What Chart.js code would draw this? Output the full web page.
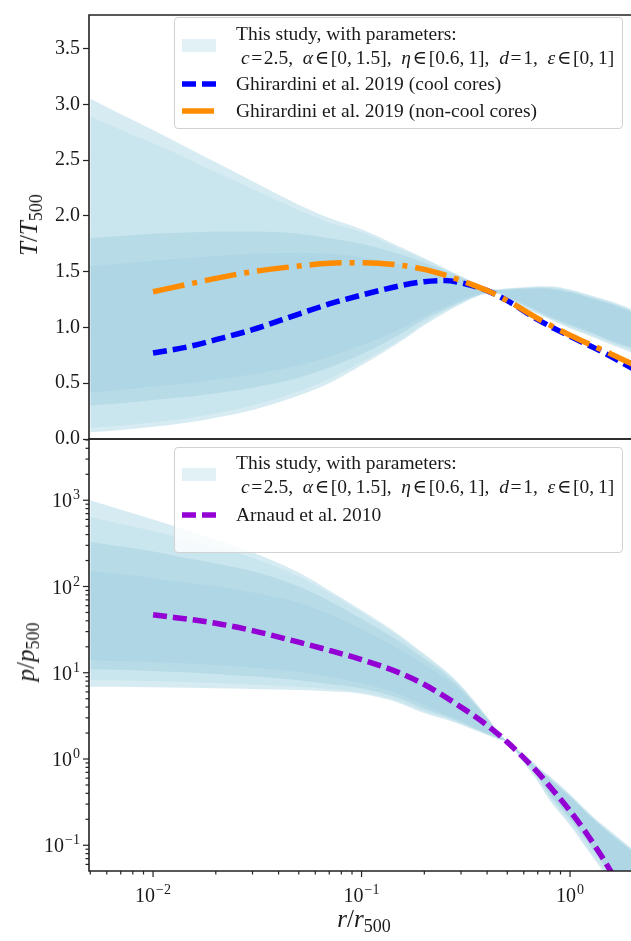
<!DOCTYPE html>
<html>
<head>
<meta charset="utf-8">
<script src="https://cdn.jsdelivr.net/npm/chart.js@4.4.1/dist/chart.umd.min.js"></script>
<style>
  html, body { margin: 0; padding: 0; background: #fff; overflow: hidden; }
  #wrap { position: relative; width: 631px; height: 941px; font-family: "Liberation Serif", "DejaVu Serif", serif; color: #1a1a1a; }
  canvas { position: absolute; left: 0; }
  .legend { position: absolute; left: 174px; width: 447px; background: rgba(255,255,255,0.82); border: 1px solid #d2d2d2; border-radius: 4px; font-size: 19.5px; z-index: 5; }
  .legend .txt { position: absolute; left: 61px; white-space: nowrap; line-height: 22px; }
  .legend .patch { position: absolute; left: 7px; width: 34px; height: 13px; background: rgba(173,216,230,0.35); }
  .legend svg { position: absolute; left: 7px; }
  .title { position: absolute; white-space: nowrap; font-size: 25px; transform: translate(-50%, -50%); z-index: 5; }
  .title.rot { transform: translate(-50%, -50%) rotate(-90deg); }
  .title sub { font-size: 0.72em; vertical-align: baseline; position: relative; top: 0.28em; }
</style>
</head>
<body>
<div id="wrap">
  <canvas id="topChart" width="631" height="462" style="top:0"></canvas>
  <canvas id="botChart" width="631" height="504" style="top:437px"></canvas>

  <div class="legend" style="top:17px;height:110px">
    <div class="patch" style="top:21px"></div>
    <div class="txt" style="top:5px">This study, with parameters:</div>
    <div class="txt" style="top:29px">&nbsp;<i>c</i>&#8202;=&#8202;2.5, &nbsp;<i>α</i>&#8202;∈&#8202;[0,&#8201;1.5], &nbsp;<i>η</i>&#8202;∈&#8202;[0.6,&#8201;1], &nbsp;<i>d</i>&#8202;=&#8202;1, &nbsp;<i>ε</i>&#8202;∈&#8202;[0,&#8201;1]</div>
    <svg width="40" height="10" style="top:61px"><line x1="0" y1="5" x2="40" y2="5" stroke="#0000ff" stroke-width="5.5" stroke-dasharray="14 6"/></svg>
    <div class="txt" style="top:55px">Ghirardini et al. 2019 (cool cores)</div>
    <svg width="40" height="10" style="top:88px"><line x1="0" y1="5" x2="40" y2="5" stroke="#ff8c00" stroke-width="5.5" stroke-dasharray="32 8 5 8"/></svg>
    <div class="txt" style="top:82px">Ghirardini et al. 2019 (non-cool cores)</div>
  </div>

  <div class="legend" style="top:447px;height:104px">
    <div class="patch" style="top:20px"></div>
    <div class="txt" style="top:4px">This study, with parameters:</div>
    <div class="txt" style="top:28px">&nbsp;<i>c</i>&#8202;=&#8202;2.5, &nbsp;<i>α</i>&#8202;∈&#8202;[0,&#8201;1.5], &nbsp;<i>η</i>&#8202;∈&#8202;[0.6,&#8201;1], &nbsp;<i>d</i>&#8202;=&#8202;1, &nbsp;<i>ε</i>&#8202;∈&#8202;[0,&#8201;1]</div>
    <svg width="40" height="10" style="top:62px"><line x1="0" y1="5" x2="40" y2="5" stroke="#9400d3" stroke-width="5.5" stroke-dasharray="14 6"/></svg>
    <div class="txt" style="top:56px">Arnaud et al. 2010</div>
  </div>

  <div class="title rot" style="left:29px;top:225px"><i>T</i>/<i>T</i><sub>500</sub></div>
  <div class="title rot" style="left:26px;top:652px"><i>p</i>/<i>p</i><sub>500</sub></div>
  <div class="title" style="left:364px;top:919px"><i>r</i>/<i>r</i><sub>500</sub></div>
</div>

<script>
  // radius grid shared by the model envelopes (r / r500)
  const rGrid = [0.005, 0.007, 0.01, 0.015, 0.02, 0.03, 0.05, 0.07, 0.1, 0.15, 0.2, 0.25, 0.3, 0.35, 0.4, 0.45, 0.5, 0.6, 0.7, 0.8, 1.0, 1.3, 1.6, 2.0];

  // temperature envelopes, T / T500 (outer -> deep layers)
  const tOuterHi = [3.05, 2.91, 2.77, 2.60, 2.48, 2.31, 2.10, 1.98, 1.88, 1.73, 1.62, 1.53, 1.46, 1.40, 1.355, 1.34, 1.35, 1.36, 1.37, 1.37, 1.34, 1.28, 1.23, 1.16];
  const tOuterLo = [0.06, 0.08, 0.11, 0.15, 0.19, 0.26, 0.39, 0.50, 0.66, 0.86, 1.02, 1.13, 1.21, 1.27, 1.30, 1.30, 1.26, 1.18, 1.12, 1.07, 0.99, 0.91, 0.84, 0.77];
  const tMidHi = [2.89, 2.77, 2.65, 2.50, 2.39, 2.24, 2.05, 1.94, 1.85, 1.71, 1.61, 1.525, 1.455, 1.395, 1.352, 1.338, 1.345, 1.355, 1.36, 1.36, 1.33, 1.27, 1.22, 1.15];
  const tMidLo = [0.10, 0.12, 0.15, 0.19, 0.23, 0.30, 0.43, 0.54, 0.69, 0.88, 1.04, 1.145, 1.215, 1.275, 1.302, 1.305, 1.262, 1.185, 1.125, 1.08, 1.0, 0.92, 0.855, 0.79];
  const tCoreHi = [1.80, 1.82, 1.84, 1.85, 1.86, 1.86, 1.84, 1.80, 1.75, 1.66, 1.58, 1.51, 1.45, 1.39, 1.35, 1.335, 1.34, 1.35, 1.355, 1.35, 1.32, 1.26, 1.21, 1.14];
  const tCoreLo = [0.30, 0.32, 0.35, 0.38, 0.41, 0.46, 0.55, 0.64, 0.76, 0.93, 1.07, 1.16, 1.23, 1.28, 1.31, 1.31, 1.27, 1.20, 1.14, 1.09, 1.02, 0.94, 0.87, 0.81];
  const tDeepHi = [1.55, 1.57, 1.60, 1.62, 1.64, 1.66, 1.67, 1.66, 1.63, 1.57, 1.52, 1.47, 1.43, 1.38, 1.345, 1.333, 1.335, 1.34, 1.345, 1.34, 1.31, 1.25, 1.20, 1.13];
  const tDeepLo = [0.42, 0.44, 0.47, 0.50, 0.53, 0.58, 0.66, 0.74, 0.84, 0.98, 1.10, 1.18, 1.245, 1.29, 1.315, 1.315, 1.275, 1.21, 1.15, 1.10, 1.03, 0.95, 0.88, 0.82];

  // pressure envelopes, p / p500
  const pOuterHi = [1000, 775, 600, 440, 350, 250, 145, 90, 53, 28, 16.5, 10.8, 7.1, 4.6, 3.1, 2.1, 1.60, 1.15, 0.82, 0.63, 0.39, 0.21, 0.14, 0.09];
  const pOuterLo = [6.9, 6.9, 6.8, 6.7, 6.6, 6.5, 6.3, 6.1, 5.7, 4.5, 3.4, 2.9, 2.5, 2.15, 1.9, 1.7, 1.56, 0.9, 0.55, 0.33, 0.17, 0.07, 0.035, 0.017];
  const pMidHi = [640, 530, 440, 340, 285, 215, 130, 84, 50, 26.5, 15.7, 10.4, 6.9, 4.5, 3.05, 2.08, 1.59, 1.13, 0.80, 0.61, 0.38, 0.205, 0.135, 0.087];
  const pMidLo = [8.3, 8.2, 8.0, 7.8, 7.6, 7.3, 6.9, 6.5, 6.0, 4.7, 3.55, 3.0, 2.55, 2.2, 1.93, 1.72, 1.565, 0.93, 0.58, 0.35, 0.18, 0.075, 0.037, 0.018];
  const pCoreHi = [330, 290, 255, 210, 185, 150, 100, 68, 42, 23.5, 14.5, 9.8, 6.6, 4.35, 2.98, 2.05, 1.58, 1.10, 0.78, 0.59, 0.37, 0.20, 0.13, 0.085];
  const pCoreLo = [11, 10.8, 10.5, 10.1, 9.7, 9.1, 8.2, 7.4, 6.6, 5.1, 3.8, 3.15, 2.65, 2.25, 1.96, 1.74, 1.57, 0.97, 0.62, 0.38, 0.20, 0.085, 0.042, 0.02];
  const pDeepHi = [150, 140, 125, 110, 100, 85, 65, 48, 32, 19, 12.5, 8.8, 6.2, 4.2, 2.9, 2.03, 1.575, 1.08, 0.76, 0.58, 0.36, 0.195, 0.127, 0.083];
  const pDeepLo = [14, 13.7, 13.3, 12.8, 12.3, 11.5, 10.2, 9.0, 7.6, 5.7, 4.2, 3.3, 2.75, 2.3, 2.0, 1.76, 1.575, 1.0, 0.65, 0.40, 0.21, 0.09, 0.045, 0.022];

  // Ghirardini et al. 2019 temperature profiles
  const rGhir = [0.01, 0.015, 0.02, 0.03, 0.05, 0.07, 0.1, 0.15, 0.2, 0.25, 0.3, 0.4, 0.5, 0.7, 1.0, 1.5, 2.0];
  const tCoolCore = [0.77, 0.83, 0.89, 0.98, 1.12, 1.21, 1.29, 1.37, 1.41, 1.42, 1.40, 1.33, 1.24, 1.07, 0.92, 0.76, 0.63];
  const tNonCoolCore = [1.32, 1.39, 1.44, 1.50, 1.55, 1.575, 1.58, 1.56, 1.52, 1.47, 1.42, 1.33, 1.24, 1.08, 0.93, 0.78, 0.67];

  // Arnaud et al. 2010 pressure profile
  const rArnaud = [0.01, 0.02, 0.03, 0.05, 0.07, 0.1, 0.15, 0.2, 0.3, 0.4, 0.5, 0.6, 0.7, 0.8, 1.0, 1.2, 1.4, 1.6, 1.8];
  const pArnaud = [47, 37.5, 30.8, 22.6, 18.2, 14.2, 10.1, 7.3, 4.0, 2.46, 1.57, 1.03, 0.70, 0.48, 0.25, 0.137, 0.078, 0.046, 0.028];

  // tick labels
  const tTicks = [0, 0.5, 1, 1.5, 2, 2.5, 3, 3.5];
  const pTickExp = [-1, 0, 1, 2, 3];
  const rTickExp = [-2, -1, 0];

  const rMin = 0.00493, rMax = 1.96;
  const serif = '"Liberation Serif", "DejaVu Serif", serif';
  const ink = '#1a1a1a';

  const pts = (xs, ys) => xs.map((x, i) => ({ x: x, y: ys[i] }));

  // one translucent layer of the model family: fill from hi down to lo
  function band(hi, lo, color, order) {
    const base = { pointRadius: 0, borderWidth: 0, borderColor: 'transparent', cubicInterpolationMode: 'monotone', order: order };
    return [
      Object.assign({ data: pts(rGrid, hi), fill: '+1', backgroundColor: color }, base),
      Object.assign({ data: pts(rGrid, lo), fill: false }, base)
    ];
  }

  function profile(xs, ys, color, dash) {
    return { data: pts(xs, ys), borderColor: color, borderWidth: 5.5, borderDash: dash, order: 0,
      borderCapStyle: 'butt', pointRadius: 0, fill: false, cubicInterpolationMode: 'monotone' };
  }

  function powLabel(ctx, exp, x, y, centered) {
    const base = '10', sup = exp < 0 ? '\u2212' + (-exp) : String(exp);
    ctx.font = '20px ' + serif;
    const wb = ctx.measureText(base).width;
    ctx.font = '14px ' + serif;
    const ws = ctx.measureText(sup).width;
    const x0 = centered ? x - (wb + ws + 1) / 2 : x - wb - ws - 1;
    ctx.textAlign = 'left';
    ctx.textBaseline = 'alphabetic';
    ctx.font = '20px ' + serif;
    ctx.fillText(base, x0, y);
    ctx.font = '14px ' + serif;
    ctx.fillText(sup, x0 + wb + 1, y - 8);
  }

  // spines, drawn above the data
  const spines = {
    id: 'spines',
    afterDatasetsDraw(chart) {
      const { ctx, chartArea: a } = chart;
      ctx.save();
      ctx.strokeStyle = '#222';
      ctx.lineWidth = 1.6;
      ctx.beginPath();
      ctx.moveTo(a.right + 5, a.top); ctx.lineTo(a.left, a.top);
      ctx.lineTo(a.left, a.bottom); ctx.lineTo(a.right + 5, a.bottom);
      ctx.stroke();
      ctx.restore();
    }
  };

  // log ticks for the pressure panel and the shared r axis
  const logTicks = {
    id: 'logTicks',
    afterDraw(chart) {
      const { ctx, chartArea: a } = chart;
      const xs = chart.scales.x, ys = chart.scales.y;
      ctx.save();
      ctx.strokeStyle = '#222';
      ctx.fillStyle = ink;
      ctx.lineWidth = 1.2;
      for (let e = -3; e <= 3; e++) {
        for (let k = 1; k <= 9; k++) {
          const v = k * Math.pow(10, e);
          const len = k === 1 ? 6 : 3.5;
          if (v >= ys.min && v <= ys.max) {
            const py = ys.getPixelForValue(v);
            ctx.beginPath(); ctx.moveTo(a.left - len, py); ctx.lineTo(a.left, py); ctx.stroke();
          }
          if (v >= xs.min && v <= xs.max) {
            const px = xs.getPixelForValue(v);
            ctx.beginPath(); ctx.moveTo(px, a.bottom); ctx.lineTo(px, a.bottom + len); ctx.stroke();
          }
        }
      }
      pTickExp.forEach(e => powLabel(ctx, e, a.left - 9, ys.getPixelForValue(Math.pow(10, e)) + 7, false));
      rTickExp.forEach(e => powLabel(ctx, e, xs.getPixelForValue(Math.pow(10, e)), a.bottom + 31, true));
      ctx.restore();
    }
  };

  const common = {
    responsive: false,
    animation: false,
    devicePixelRatio: 1,
    events: [],
    plugins: { legend: { display: false }, tooltip: { enabled: false } }
  };

  const layerColors = ['rgba(173,216,230,0.5)', 'rgba(173,216,230,0.3)', 'rgba(150,200,218,0.35)', 'rgba(150,200,218,0.25)'];

  new Chart(document.getElementById('topChart'), {
    type: 'line',
    data: {
      datasets: [
        ...band(tOuterHi, tOuterLo, layerColors[0], 4),
        ...band(tMidHi, tMidLo, layerColors[1], 3),
        ...band(tCoreHi, tCoreLo, layerColors[2], 2),
        ...band(tDeepHi, tDeepLo, layerColors[3], 1),
        profile(rGhir, tNonCoolCore, '#ff8c00', [32, 8, 5, 8]),
        profile(rGhir, tCoolCore, '#0000ff', [14, 6])
      ]
    },
    options: Object.assign({}, common, {
      layout: { padding: { top: 7, bottom: 23, left: 0, right: 0 } },
      scales: {
        x: { type: 'logarithmic', min: rMin, max: rMax, bounds: 'data', display: false },
        y: {
          type: 'linear', min: 0, max: 3.8, bounds: 'data',
          afterBuildTicks: s => { s.ticks = tTicks.map(v => ({ value: v })); },
          afterFit: s => { s.width = 89; },
          ticks: { font: { family: serif, size: 20 }, color: ink, padding: 3, callback: v => v.toFixed(1) },
          grid: { drawOnChartArea: false, tickLength: 6, tickColor: '#222', tickWidth: 1.2 },
          border: { display: false }
        }
      }
    }),
    plugins: [spines]
  });

  new Chart(document.getElementById('botChart'), {
    type: 'line',
    data: {
      datasets: [
        ...band(pOuterHi, pOuterLo, layerColors[0], 4),
        ...band(pMidHi, pMidLo, layerColors[1], 3),
        ...band(pCoreHi, pCoreLo, layerColors[2], 2),
        ...band(pDeepHi, pDeepLo, layerColors[3], 1),
        profile(rArnaud, pArnaud, '#9400d3', [14, 6])
      ]
    },
    options: Object.assign({}, common, {
      layout: { padding: { top: 2, bottom: 0, left: 0, right: 0 } },
      scales: {
        x: {
          type: 'logarithmic', min: rMin, max: rMax, bounds: 'data',
          afterFit: s => { s.height = 70; },
          ticks: { display: false }, grid: { display: false }, border: { display: false }
        },
        y: {
          type: 'logarithmic', min: 0.0503, max: 5130, bounds: 'data',
          afterFit: s => { s.width = 89; },
          ticks: { display: false }, grid: { display: false }, border: { display: false }
        }
      }
    }),
    plugins: [spines, logTicks]
  });
</script>
</body>
</html>
